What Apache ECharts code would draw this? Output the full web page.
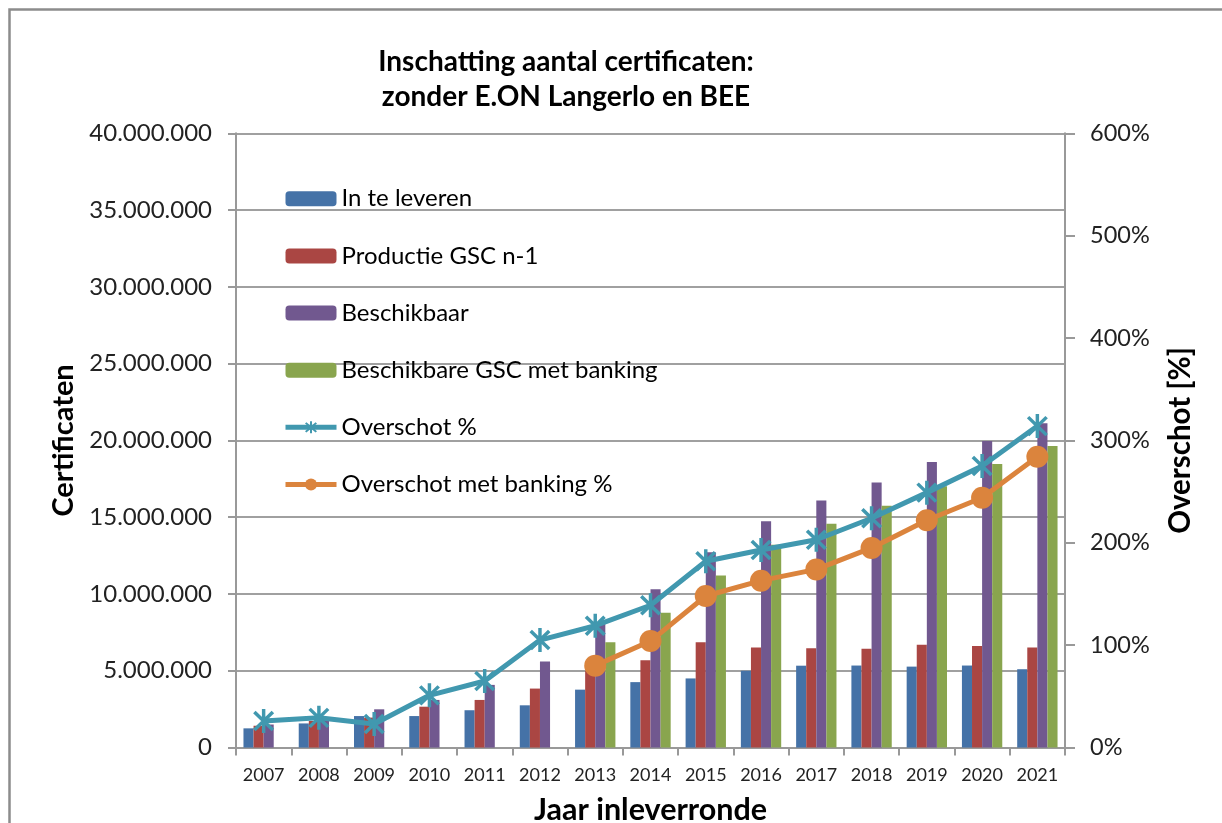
<!DOCTYPE html>
<html>
<head>
<meta charset="utf-8">
<script src="https://cdn.jsdelivr.net/npm/echarts@6/dist/echarts.min.js"></script>
<style>html,body{margin:0;padding:0;background:#fff;overflow:hidden}#c{width:1222px;height:831px}</style>
</head>
<body>
<div id="c"></div>
<script>
const years = ['2007','2008','2009','2010','2011','2012','2013','2014','2015','2016','2017','2018','2019','2020','2021'];
const inTeLeveren = [1250000,1570000,2050000,2050000,2430000,2750000,3770000,4260000,4500000,5000000,5330000,5340000,5270000,5340000,5100000];
const productieGSC = [1420000,1730000,1950000,2660000,3100000,3840000,5000000,5680000,6850000,6520000,6460000,6440000,6700000,6610000,6520000];
const beschikbaar = [1500000,1800000,2490000,3100000,4080000,5610000,8050000,10300000,12720000,14730000,16080000,17260000,18590000,19960000,21120000];
const beschikbaarBanking = [null,null,null,null,null,null,6850000,8770000,11210000,13200000,14570000,15750000,17020000,18460000,19640000];
const overschot = [26,29,23,51,65,105,119,139,182,193,203,224,249,275,314];
const overschotBanking = [null,null,null,null,null,null,80,104,148,163,174,195,222,244,284];
const leftTicks = {min:0, max:40000000, interval:5000000};
const rightTicks = {min:0, max:600, interval:100};

const F = 'Lato';
const star = 'path://M-1.4,-10 L1.4,-10 L1.4,10 L-1.4,10 Z M-8.5,-6.5 L-6.5,-8.5 L8.5,6.5 L6.5,8.5 Z M6.5,-8.5 L8.5,-6.5 L-6.5,8.5 L-8.5,6.5 Z';
const fmtDots = v => String(v).replace(/\B(?=(\d{3})+(?!\d))/g, '.');

const sy = 831 / 823;
const Y = v => v * sy;

const chart = echarts.init(document.getElementById('c'), null, {renderer:'canvas', width:1222, height:831});
chart.setOption({
  animation:false,
  backgroundColor:'#fff',
  graphic:[{type:'rect', shape:{x:9.5,y:Y(9.5),width:1240,height:Y(840)}, style:{fill:'none', stroke:'#8c8c8c', lineWidth:2.5}, silent:true}],
  title:{
    text:'Inschatting aantal certificaten:\nzonder E.ON Langerlo en BEE',
    left:561, top:Y(39), textAlign:'center',
    textStyle:{fontFamily:F, fontWeight:'bold', fontSize:28, lineHeight:Y(35), color:'#000'}
  },
  legend:{
    orient:'vertical', left:278, top:Y(180), itemWidth:51, itemHeight:15, itemGap:Y(56.6)-24,
    lineStyle:{width:5},
    textStyle:{fontFamily:F, fontSize:24, lineHeight:24, color:'#000'},
    data:['In te leveren','Productie GSC n-1','Beschikbaar','Beschikbare GSC met banking','Overschot %','Overschot met banking %']
  },
  grid:{left:236, width:829, top:Y(132), height:Y(611), containLabel:false},
  xAxis:{
    type:'category', data:years,
    name:'Jaar inleverronde', nameLocation:'middle', nameGap:Y(47),
    nameTextStyle:{fontFamily:F, fontWeight:'bold', fontSize:30.5, color:'#000'},
    axisLine:{lineStyle:{color:'#999', width:2}},
    axisTick:{show:true, length:8, lineStyle:{color:'#999', width:2}},
    axisLabel:{fontFamily:F, fontSize:18, color:'#222', margin:Y(18)}
  },
  yAxis:[{
    type:'value', min:leftTicks.min, max:leftTicks.max, interval:leftTicks.interval,
    name:'Certificaten', nameLocation:'middle', nameGap:156, nameRotate:90,
    nameTextStyle:{fontFamily:F, fontWeight:'bold', fontSize:29, color:'#000'},
    axisLine:{show:true, lineStyle:{color:'#999', width:2}},
    axisTick:{show:true, length:8, lineStyle:{color:'#999', width:2}},
    splitLine:{show:true, lineStyle:{color:'#a0a0a0', width:2}},
    axisLabel:{fontFamily:F, fontSize:24, color:'#222', margin:24, formatter:fmtDots}
  },{
    type:'value', min:rightTicks.min, max:rightTicks.max, interval:rightTicks.interval,
    name:'Overschot [%]', nameLocation:'middle', nameGap:100, nameRotate:90,
    nameTextStyle:{fontFamily:F, fontWeight:'bold', fontSize:29.5, color:'#000'},
    axisLine:{show:true, lineStyle:{color:'#999', width:2}},
    axisTick:{show:true, length:10, lineStyle:{color:'#999', width:2}},
    splitLine:{show:false},
    axisLabel:{fontFamily:F, fontSize:23.5, color:'#222', margin:25, formatter:'{value}%'}
  }],
  series:[
    {name:'In te leveren', type:'bar', data:inTeLeveren, itemStyle:{color:'#4572A7'}, barGap:'0%', barCategoryGap:'27%'},
    {name:'Productie GSC n-1', type:'bar', data:productieGSC, itemStyle:{color:'#AA4643'}},
    {name:'Beschikbaar', type:'bar', data:beschikbaar, itemStyle:{color:'#71588F'}},
    {name:'Beschikbare GSC met banking', type:'bar', data:beschikbaarBanking, itemStyle:{color:'#89A54E'}},
    {name:'Overschot %', type:'line', yAxisIndex:1, data:overschot, symbol:star, symbolSize:[21,24],
      lineStyle:{color:'#4198AF', width:5}, itemStyle:{color:'#4198AF'}, z:5},
    {name:'Overschot met banking %', type:'line', yAxisIndex:1, data:overschotBanking, symbol:'circle', symbolSize:22,
      lineStyle:{color:'#DB843D', width:5}, itemStyle:{color:'#DB843D'}, z:6}
  ]
});
</script>
</body>
</html>
